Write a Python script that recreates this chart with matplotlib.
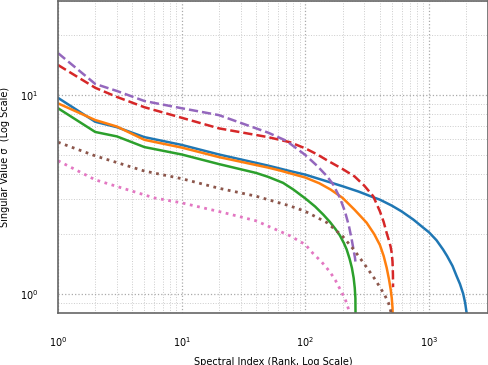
import matplotlib
matplotlib.use("Agg")
import matplotlib.pyplot as plt

# singular value spectra (rank, sigma)
blue_rank = [1, 2, 3, 5, 10, 20, 50, 75, 100, 150, 200, 270, 350, 400, 500, 600, 750, 900,
             1000, 1150, 1300, 1400, 1550, 1670, 1780, 1890, 1960, 2015, 2048]
blue_sv = [9.7, 7.35, 6.9, 6.15, 5.62, 5.03, 4.42, 4.15, 3.98, 3.68, 3.48, 3.27, 3.07, 2.98, 2.78, 2.6, 2.36, 2.15,
           2.04, 1.86, 1.67, 1.55, 1.38, 1.23, 1.12, 1.0, 0.9, 0.8, 0.5]

orange_rank = [1, 2, 3, 5, 10, 20, 50, 62, 80, 100, 130, 160, 200, 250, 313, 360, 401, 430, 455,
               475, 490, 500, 507, 512]
orange_sv = [9.1, 7.5, 6.95, 5.96, 5.45, 4.88, 4.32, 4.18, 4.0, 3.85, 3.6, 3.35, 3.04, 2.65, 2.28, 2.0, 1.76, 1.55, 1.35,
             1.18, 1.05, 0.95, 0.85, 0.5]

green_rank = [1, 2, 3, 5, 10, 20, 40, 50, 66, 80, 100, 120, 140, 158, 175, 190, 205, 216, 228,
              238, 246, 251, 254, 256]
green_sv = [8.6, 6.53, 6.2, 5.48, 5.03, 4.5, 4.06, 3.88, 3.62, 3.35, 3.02, 2.75, 2.5, 2.3, 2.12, 1.97, 1.8, 1.67, 1.5,
            1.35, 1.2, 1.07, 0.95, 0.5]

red_rank = [1, 2, 3, 5, 10, 20, 50, 75, 100, 125, 150, 200, 250, 300, 354, 401, 430, 454, 475, 490, 500,
            507, 511, 512]
red_sv = [14.2, 10.9, 9.8, 8.7, 7.7, 6.81, 6.15, 5.8, 5.4, 5.03, 4.7, 4.25, 3.9, 3.5, 3.1, 2.6, 2.3, 2.03, 1.85, 1.72, 1.6,
          1.45, 1.25, 1.08]

purple_rank = [1, 2, 3, 5, 10, 20, 50, 70, 100, 125, 150, 168, 190, 209, 225, 237, 246, 252, 256]
purple_sv = [16.3, 11.4, 10.5, 9.35, 8.6, 7.94, 6.48, 5.9, 5.0, 4.4, 3.9, 3.55, 3.05, 2.6, 2.2, 1.88, 1.65, 1.52, 1.39]

brown_rank = [1, 2, 5, 10, 20, 40, 75, 100, 150, 200, 250, 313, 360, 401, 440, 470, 490, 505, 512]
brown_sv = [5.8, 4.95, 4.15, 3.8, 3.4, 3.1, 2.77, 2.6, 2.28, 1.95, 1.65, 1.36, 1.2, 1.08, 0.98, 0.9, 0.82, 0.72, 0.5]

pink_rank = [1, 2, 6, 10, 22, 40, 75, 100, 115, 135, 158, 175, 190, 210, 226, 240, 256]
pink_sv = [4.68, 3.75, 3.04, 2.87, 2.56, 2.33, 1.96, 1.77, 1.6, 1.45, 1.29, 1.17, 1.06, 0.94, 0.82, 0.7, 0.5]

fig = plt.figure(figsize=(4.89, 3.65), dpi=100)
ax = fig.add_axes([58 / 489, 52 / 365, 430 / 489, 312.5 / 365])

ax.plot(blue_rank, blue_sv, color="tab:blue", lw=1.8)
ax.plot(orange_rank, orange_sv, color="tab:orange", lw=1.8)
ax.plot(green_rank, green_sv, color="tab:green", lw=1.8)
ax.plot(red_rank, red_sv, color="tab:red", lw=1.8, ls="--")
ax.plot(purple_rank, purple_sv, color="tab:purple", lw=1.8, ls="--")
ax.plot(brown_rank, brown_sv, color="tab:brown", lw=2.0, ls=":")
ax.plot(pink_rank, pink_sv, color="tab:pink", lw=2.0, ls=":")

ax.set_xscale("log")
ax.set_yscale("log")
ax.set_xlim(1, 3000)
ax.set_ylim(0.8, 30)

ax.grid(True, which="major", ls=":", color="#aaaaaa", lw=0.9)
ax.grid(True, which="minor", ls=":", color="#cccccc", lw=0.7)
ax.tick_params(which="both", length=0)
ax.tick_params(axis="x", pad=16, labelsize=7)
ax.tick_params(axis="y", pad=14, labelsize=7)
ax.set_yticks([1, 10])
ax.minorticks_on()
for s in ax.spines.values():
    s.set_color("#666666")
    s.set_linewidth(1.2)

ax.set_xlabel("Spectral Index (Rank, Log Scale)", fontsize=7)
ax.set_ylabel("Singular Value σ  (Log Scale)", fontsize=7)
ax.xaxis.set_label_coords(0.5, -0.14)
ax.yaxis.set_label_coords(-0.112, 0.5)

fig.savefig("out.png", dpi=100)
